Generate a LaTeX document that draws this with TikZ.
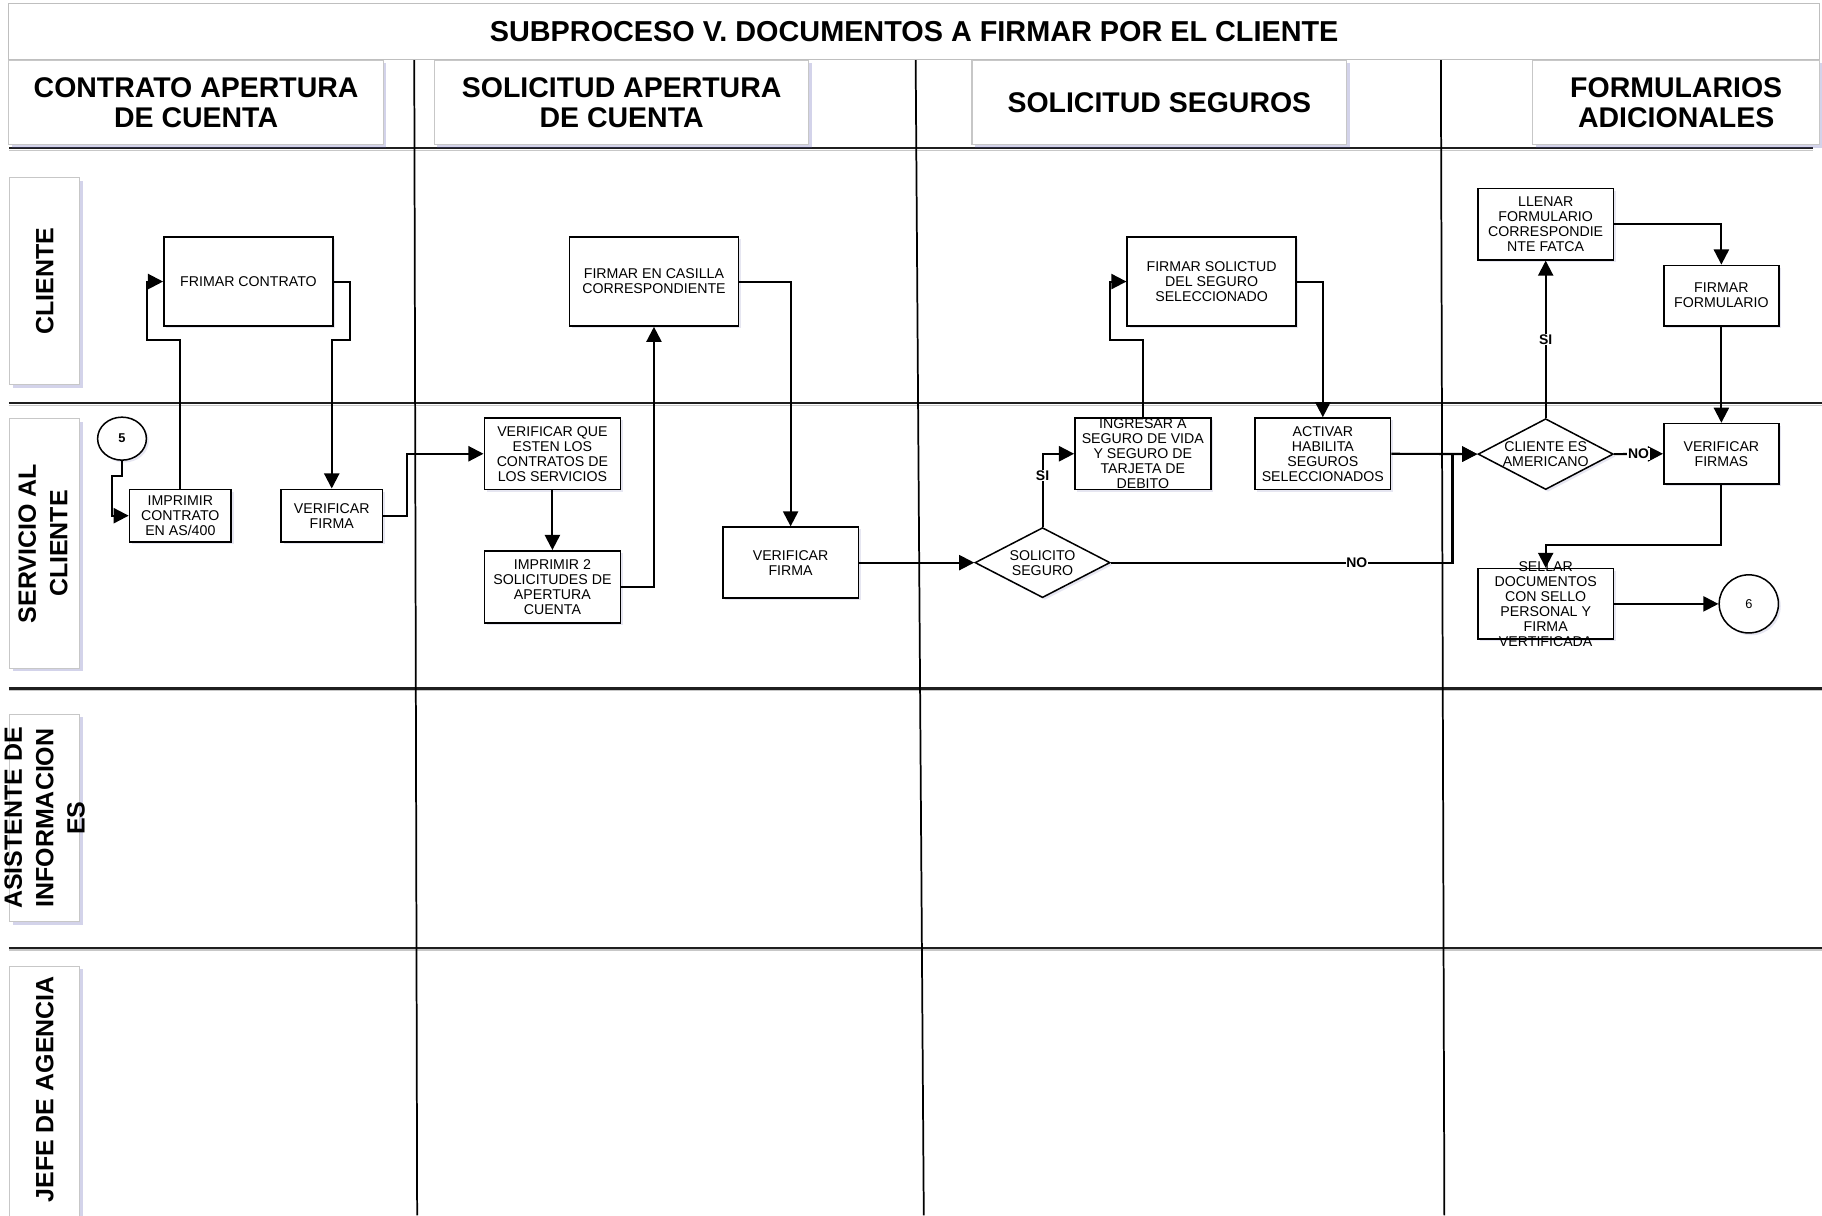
\documentclass[tikz,border=0pt]{standalone}
\usepackage{fontspec}
\setmainfont{Liberation Sans}
\usetikzlibrary{shapes.geometric,arrows.meta,shadows}

\begin{document}
\begin{tikzpicture}[x=1pt,y=-1pt,
  conn/.style={line width=1.8pt, -{Triangle[length=13pt,width=13pt]}},
  proc/.style={rectangle, draw=black, line width=1.3pt, fill=white, inner sep=0pt,
    drop shadow={shadow xshift=2pt, shadow yshift=-2pt, fill=blue!30!gray, opacity=0.15}},
  dec/.style={diamond, draw=black, line width=1.3pt, fill=white, inner sep=0pt,
    drop shadow={shadow xshift=2pt, shadow yshift=-2pt, fill=blue!30!gray, opacity=0.15}},
  term/.style={ellipse, draw=black, line width=1.3pt, fill=white, inner sep=0pt,
    drop shadow={shadow xshift=2pt, shadow yshift=-2pt, fill=blue!30!gray, opacity=0.15}},
  txt/.style={align=center, inner sep=0pt, font=\fontsize{12.2}{12.9}\selectfont},
  flag/.style={fill=white, inner sep=0.6pt, font=\fontsize{12}{12}\selectfont\bfseries},
  titlebox/.style={rectangle, draw=black!25, line width=1pt, fill=white, inner sep=0pt},
  hdrbox/.style={rectangle, draw=black!22, line width=1pt, fill=white, inner sep=0pt,
    drop shadow={shadow xshift=2.5pt, shadow yshift=-2.5pt, fill=blue!35!gray, opacity=0.25}},
  hdrtxt/.style={align=center, inner sep=0pt, font=\fontsize{24.5}{26}\selectfont\bfseries},
  lanebox/.style={rectangle, draw=black!22, line width=1pt, fill=white, inner sep=0pt,
    minimum width=60pt,
    drop shadow={shadow xshift=2.5pt, shadow yshift=-2.5pt, fill=blue!35!gray, opacity=0.25}},
  lanetxt/.style={align=center, inner sep=0pt, rotate=90, font=\fontsize{21.5}{27}\selectfont\bfseries},
  sepline/.style={line width=1.8pt, black!88},
  sepshade/.style={line width=1.2pt, black!22},
  colline/.style={line width=1.5pt, black},
]
\clip (0,0) rectangle (1568,1046);
\fill[white] (0,0) rectangle (1568,1046);

% ---------- grid: row separators and column separators ----------
\draw[sepshade] (8,129.5) -- (1560,129.5);
\draw[sepline] (8,127.5) -- (1560,127.5);
\foreach \yy in {347,592.5,815.5}{
  \draw[sepshade] (7.7,\yy+1.9) -- (1568,\yy+1.9);
  \draw[sepline] (7.7,\yy) -- (1568,\yy);
}
\draw[colline] (356.5,51) -- (359,1046);
\draw[colline] (788,51) -- (795,1046);
\draw[colline] (1240,51) -- (1243,1046);

% ---------- title and column headers ----------
\node[titlebox, minimum width=1558.5pt, minimum height=48pt] (title) at (786.75,27) {};
\node[font=\fontsize{24.8}{26}\selectfont\bfseries, inner sep=0pt] (titletext) at (title.center)
  {SUBPROCESO V. DOCUMENTOS A FIRMAR POR EL CLIENTE};

\node[hdrbox, minimum width=322.5pt, minimum height=72.5pt] (h1) at (168.75,88.2) {};
\node[hdrbox, minimum width=322pt, minimum height=72.5pt] (h2) at (535,88.2) {};
\node[hdrbox, minimum width=322.5pt, minimum height=72.5pt] (h3) at (997.75,88.2) {};
\node[hdrbox, minimum width=247pt, minimum height=72.5pt] (h4) at (1442.5,88.2) {};
\node[hdrtxt] (h1t) at (h1.center) {CONTRATO APERTURA\\DE CUENTA};
\node[hdrtxt] (h2t) at (h2.center) {SOLICITUD APERTURA\\DE CUENTA};
\node[hdrtxt] (h3t) at (h3.center) {SOLICITUD SEGUROS};
\node[hdrtxt] (h4t) at (h4.center) {FORMULARIOS\\ADICIONALES};

% ---------- lane labels ----------
\node[lanebox, minimum height=178pt] (l1) at (38.5,242) {};
\node[lanebox, minimum height=215pt] (l2) at (38.5,467.75) {};
\node[lanebox, minimum height=178.7pt] (l3) at (38.5,704) {};
\node[lanebox, minimum height=228pt] (l4) at (38.5,945.8) {};
\node[lanetxt] (l1t) at (l1.center) {CLIENTE};
\node[lanetxt] (l2t) at ([xshift=-1.5pt]l2.center) {SERVICIO AL\\CLIENTE};
\node[lanetxt] (l3t) at (l3.center) {ASISTENTE DE\\INFORMACION\\ES};
\node[lanetxt] (l4t) at (38.5,937.5) {JEFE DE AGENCIA};

% ---------- lane CLIENTE ----------
\node[proc, minimum width=145.6pt, minimum height=76.6pt,
  label={[txt]center:FRIMAR CONTRATO}] (frimar) at (213.8,242.3) {};
\node[proc, minimum width=145.6pt, minimum height=76.6pt,
  label={[txt]center:{FIRMAR EN CASILLA\\CORRESPONDIENTE}}] (casilla) at (562.8,242.3) {};
\node[proc, minimum width=145.3pt, minimum height=76.6pt,
  label={[txt]center:{FIRMAR SOLICTUD\\DEL SEGURO\\SELECCIONADO}}] (solictud) at (1042.7,242.3) {};
\node[proc, minimum width=116.4pt, minimum height=61.3pt,
  label={[txt]center:{LLENAR\\FORMULARIO\\CORRESPONDIE\\NTE FATCA}}] (llenar) at (1330.2,193) {};
\node[proc, minimum width=99.2pt, minimum height=52.1pt,
  label={[txt]center:{FIRMAR\\FORMULARIO}}] (firmform) at (1481.4,254.4) {};

% ---------- lane SERVICIO AL CLIENTE ----------
\node[term, minimum width=42pt, minimum height=37pt,
  font=\fontsize{11}{11}\selectfont\bfseries] (c5) at (105,377.5) {5};
\node[proc, minimum width=87.6pt, minimum height=45.5pt,
  label={[txt]center:{IMPRIMIR\\CONTRATO\\EN AS/400}}] (imprimir) at (155.2,443.8) {};
\node[proc, minimum width=87pt, minimum height=45.5pt,
  label={[txt]center:{VERIFICAR\\FIRMA}}] (verif1) at (285.5,443.8) {};
\node[proc, minimum width=117.3pt, minimum height=61.6pt,
  label={[txt]center:{VERIFICAR QUE\\ESTEN LOS\\CONTRATOS DE\\LOS SERVICIOS}}] (verifque) at (475.4,390.5) {};
\node[proc, minimum width=117.3pt, minimum height=62pt,
  label={[txt]center:{IMPRIMIR 2\\SOLICITUDES DE\\APERTURA\\CUENTA}}] (imprimir2) at (475.4,505) {};
\node[proc, minimum width=116.8pt, minimum height=61.1pt,
  label={[txt]center:{VERIFICAR\\FIRMA}}] (verif2) at (680.4,484.2) {};
\node[dec, minimum width=116.3pt, minimum height=60.3pt,
  label={[txt]center:{SOLICITO\\SEGURO}}] (solicito) at (897.2,484.2) {};
\node[proc, minimum width=117pt, minimum height=61.6pt,
  label={[txt]center:{INGRESAR A\\SEGURO DE VIDA\\Y SEGURO DE\\TARJETA DE\\DEBITO}}] (ingresar) at (983.5,390.5) {};
\node[proc, minimum width=116.8pt, minimum height=61.6pt,
  label={[txt]center:{ACTIVAR\\HABILITA\\SEGUROS\\SELECCIONADOS}}] (activar) at (1138.4,390.5) {};
\node[dec, minimum width=116.4pt, minimum height=61pt,
  label={[txt]center:{CLIENTE ES\\AMERICANO}}] (americano) at (1330.2,390.8) {};
\node[proc, minimum width=99.2pt, minimum height=52pt,
  label={[txt]center:{VERIFICAR\\FIRMAS}}] (verifirmas) at (1481.4,390.5) {};
\node[proc, minimum width=116.4pt, minimum height=60.7pt,
  label={[txt]center:{SELLAR\\DOCUMENTOS\\CON SELLO\\PERSONAL Y\\FIRMA\\VERTIFICADA}}] (sellar) at (1330.2,519.7) {};
\node[term, minimum width=51pt, minimum height=50pt,
  font=\fontsize{11}{11}\selectfont] (c6) at (1505,519.7) {6};

% ---------- bend points ----------
\coordinate (k1) at (126.8,292.6);
\coordinate (k2) at (301,292.6);
\coordinate (k3) at (350.4,417);
\coordinate (k4) at (955.3,292.6);
\coordinate (k5) at (1250,420);
\coordinate (k6) at (1400,469.3);

% ---------- connectors ----------
\draw[conn] (c5.south) -- ++(0,13) -| ([xshift=-14pt]imprimir.west) -- (imprimir.west);
\draw[conn] (imprimir.north) |- (k1) |- (frimar.west);
\draw[conn] (frimar.east) -| (k2) -| (verif1.north);
\draw[conn] (verif1.east) -| (k3) |- (verifque.west);
\draw[conn] (verifque.south) -- (imprimir2.north);
\draw[conn] (imprimir2.east) -| (casilla.south);
\draw[conn] (casilla.east) -| (verif2.north);
\draw[conn] (verif2.east) -- (solicito.west);
\draw[conn] (solicito.north) |- node[flag, pos=0.35] (si1) {SI} (ingresar.west);
\draw[conn] (ingresar.north) |- (k4) |- (solictud.west);
\draw[conn] (solictud.east) -| (activar.north);
\draw[conn] (activar.east) -- (americano.west);
\draw[conn] (solicito.east) -| node[flag, pos=0.36] (no1) {NO} (k5) |- (americano.west);
\draw[conn] (americano.north) -- node[flag] (si2) {SI} (llenar.south);
\draw[conn] (americano.east) -- node[flag, pos=0.5] (no2) {NO} (verifirmas.west);
\draw[conn] (llenar.east) -| (firmform.north);
\draw[conn] (firmform.south) -- (verifirmas.north);
\draw[conn] (verifirmas.south) |- (k6) -| (sellar.north);
\draw[conn] (sellar.east) -- (c6.west);
\end{tikzpicture}
\end{document}
